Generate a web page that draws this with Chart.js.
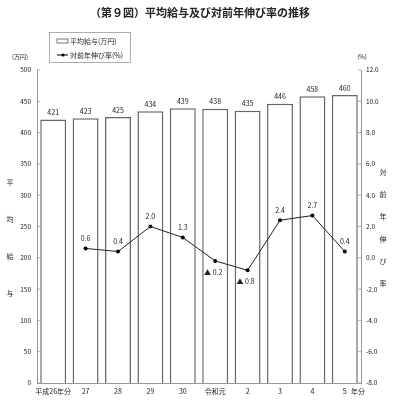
<!DOCTYPE html>
<html lang="ja">
<head>
    <meta charset="UTF-8">
    <title>平均給与及び対前年伸び率の推移</title>
    <style>
        body {
            margin: 0;
            background-color: #ffffff;
        }
        .container {
            position: relative;
            width: 400px;
            height: 401px;
        }
    </style>
    <script src="https://cdn.jsdelivr.net/npm/chart.js"></script>
</head>
<body>
    <div class="container">
        <canvas id="grafico"></canvas>
    </div>

    <script>
        // データ
        const anos = ['平成26年分', '27', '28', '29', '30', '令和元', '2', '3', '4', '5'];
        const kyuyo = [421, 423, 425, 434, 439, 438, 435, 446, 458, 460];
        const nobiritsu = [null, 0.6, 0.4, 2.0, 1.3, -0.2, -0.8, 2.4, 2.7, 0.4];
        const kyuyoTicks = [0, 50, 100, 150, 200, 250, 300, 350, 400, 450, 500];
        const ritsuTicks = [-8, -6, -4, -2, 0, 2, 4, 6, 8, 10, 12];

        const fonte = '"Noto Sans CJK JP", "Noto Sans", sans-serif';
        const corTexto = '#222';
        const corEixo = '#999';

        // Textos, legenda e rótulos desenhados por cima
        const extras = {
            id: 'extras',
            afterDraw(chart) {
                const ctx = chart.ctx;
                const area = chart.chartArea;
                ctx.save();
                ctx.fillStyle = corTexto;
                ctx.textAlign = 'center';
                ctx.textBaseline = 'middle';

                // título
                ctx.font = '600 11px ' + fonte;
                ctx.fillText('（第９図）平均給与及び対前年伸び率の推移', 200, 13);

                // unidades
                ctx.font = '6px ' + fonte;
                ctx.fillText('(万円)', 20, 57);
                ctx.fillText('(%)', 362, 57);

                // textos verticais
                ctx.font = '7px ' + fonte;
                ['平', '均', '給', '与'].forEach((c, i) => ctx.fillText(c, 10, 182 + i * 37));
                ['対', '前', '年', '伸', 'び', '率'].forEach((c, i) => ctx.fillText(c, 383, 172 + i * 22.3));

                // "年分" depois do último rótulo
                ctx.fillText('年分', 358, 391);

                // legenda
                ctx.strokeStyle = corEixo;
                ctx.lineWidth = 0.8;
                ctx.strokeRect(49.5, 32.5, 81, 30);
                ctx.fillStyle = '#fff';
                ctx.strokeStyle = '#555';
                ctx.fillRect(57, 39, 11, 4);
                ctx.strokeRect(57, 39, 11, 4);
                ctx.strokeStyle = '#000';
                ctx.lineWidth = 1;
                ctx.beginPath();
                ctx.moveTo(57, 55);
                ctx.lineTo(68, 55);
                ctx.stroke();
                ctx.fillStyle = '#000';
                ctx.beginPath();
                ctx.arc(63, 55, 1.6, 0, Math.PI * 2);
                ctx.fill();
                ctx.fillStyle = corTexto;
                ctx.textAlign = 'left';
                ctx.font = '7px ' + fonte;
                ctx.fillText('平均給与(万円)', 70, 41);
                ctx.fillText('対前年伸び率(%)', 70, 55);

                // marcas internas dos eixos
                const yL = chart.scales.y;
                const yR = chart.scales.y1;
                ctx.strokeStyle = corEixo;
                ctx.lineWidth = 0.8;
                kyuyoTicks.forEach(v => {
                    const y = yL.getPixelForValue(v);
                    ctx.beginPath();
                    ctx.moveTo(area.left, y);
                    ctx.lineTo(area.left + 3, y);
                    ctx.stroke();
                });
                ritsuTicks.forEach(v => {
                    const y = yR.getPixelForValue(v);
                    ctx.beginPath();
                    ctx.moveTo(area.right, y);
                    ctx.lineTo(area.right - 3, y);
                    ctx.stroke();
                });

                // valores das barras
                ctx.textAlign = 'center';
                ctx.font = '7px ' + fonte;
                const metaBar = chart.getDatasetMeta(1);
                metaBar.data.forEach((bar, i) => {
                    ctx.fillText(String(kyuyo[i]), bar.x, bar.y - 7);
                });

                // valores da linha
                const metaLinha = chart.getDatasetMeta(0);
                metaLinha.data.forEach((pt, i) => {
                    const v = nobiritsu[i];
                    if (v === null) return;
                    if (v < 0) {
                        ctx.fillText('▲ ' + Math.abs(v).toFixed(1), pt.x - 2, pt.y + 11);
                    } else {
                        ctx.fillText(v.toFixed(1), pt.x, pt.y - 10);
                    }
                });
                ctx.restore();
            }
        };

        const ctxGrafico = document.getElementById('grafico').getContext('2d');
        new Chart(ctxGrafico, {
            data: {
                labels: anos,
                datasets: [{
                    type: 'line',
                    label: '対前年伸び率（%）',
                    data: nobiritsu,
                    yAxisID: 'y1',
                    borderColor: '#222',
                    borderWidth: 1,
                    pointRadius: 2,
                    pointBackgroundColor: '#000',
                    pointBorderWidth: 0,
                    tension: 0,
                    order: 0
                }, {
                    type: 'bar',
                    label: '平均給与（万円）',
                    data: kyuyo,
                    yAxisID: 'y',
                    backgroundColor: '#fff',
                    borderColor: '#666',
                    borderWidth: 1.5,
                    barPercentage: 0.8,
                    categoryPercentage: 1,
                    order: 1
                }]
            },
            options: {
                responsive: true,
                maintainAspectRatio: false,
                animation: false,
                layout: { padding: { top: 70, left: 0, right: 0, bottom: 0 } },
                plugins: {
                    legend: { display: false },
                    tooltip: { enabled: false }
                },
                scales: {
                    x: {
                        grid: { display: false, drawTicks: false },
                        border: { color: corEixo, width: 1 },
                        ticks: {
                            color: corTexto,
                            font: { size: 7, family: fonte },
                            maxRotation: 0,
                            autoSkip: false,
                            padding: 4
                        },
                        afterFit(scale) { scale.height = 18; }
                    },
                    y: {
                        position: 'left',
                        min: 0,
                        max: 500,
                        grid: { display: false, drawTicks: false },
                        border: { color: corEixo, width: 1 },
                        ticks: {
                            stepSize: 50,
                            color: corTexto,
                            font: { size: 6.5, family: fonte },
                            padding: 6
                        },
                        afterFit(scale) { scale.width = 37; }
                    },
                    y1: {
                        position: 'right',
                        min: -8,
                        max: 12,
                        grid: { display: false, drawTicks: false },
                        border: { color: corEixo, width: 1 },
                        ticks: {
                            stepSize: 2,
                            color: corTexto,
                            font: { size: 6.5, family: fonte },
                            padding: 5,
                            callback: v => v.toFixed(1)
                        },
                        afterFit(scale) { scale.width = 39; }
                    }
                }
            },
            plugins: [extras]
        });
    </script>
</body>
</html>
